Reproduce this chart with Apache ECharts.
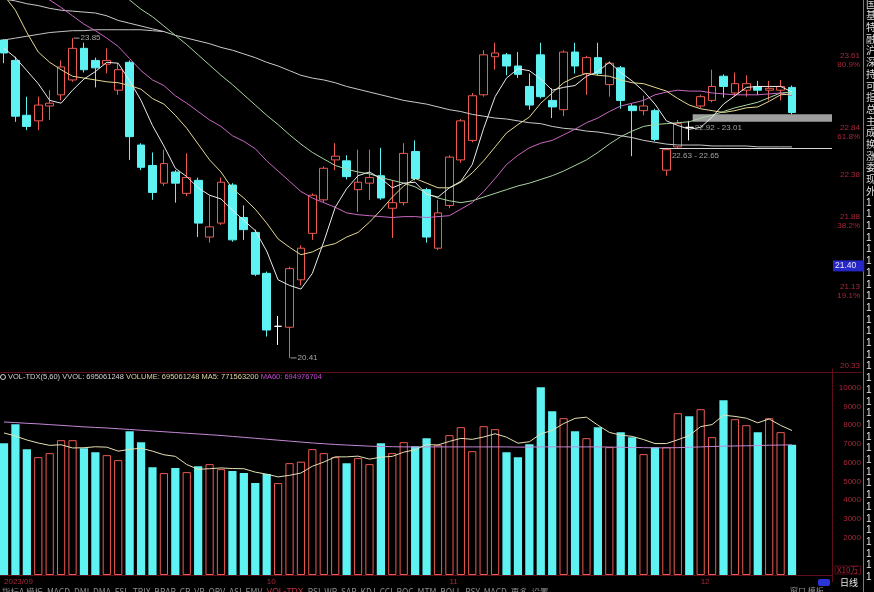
<!DOCTYPE html>
<html><head><meta charset="utf-8">
<script src="https://cdn.jsdelivr.net/npm/echarts@6/dist/echarts.min.js"></script>
<style>html,body{margin:0;padding:0;background:#000;overflow:hidden}#c{width:874px;height:592px}</style>
</head><body><div id="c"></div>
<script>
// ---------- data ----------
const TOTAL_SLOTS = 73; // 70 trading days + 3 empty slots on the right
const opens = [23.83,23.61,23.02,22.96,23.12,23.24,23.40,23.74,23.61,23.57,
23.29,23.59,22.70,22.48,22.29,22.41,22.18,22.32,21.71,21.86,
22.27,21.92,21.76,21.32,20.75,20.74,21.25,21.75,22.11,22.54,
22.53,22.22,22.29,22.37,22.02,22.08,22.63,22.22,21.59,22.05,
22.54,22.75,23.24,23.65,23.67,23.55,23.33,23.67,23.18,23.08,
23.70,23.47,23.64,23.35,23.53,23.12,23.07,23.07,22.43,22.68,
22.89,23.12,23.18,23.44,23.26,23.29,23.33,23.29,23.29,23.32];
const closes = [23.69,23.01,22.90,23.13,23.15,23.54,23.74,23.51,23.53,23.61,
23.51,22.79,22.46,22.19,22.50,22.29,22.35,21.86,21.82,22.30,
21.68,21.79,21.31,20.71,20.75,21.37,21.59,22.16,22.45,22.58,
22.36,22.30,22.35,22.13,22.08,22.61,22.34,21.71,21.97,22.57,
22.96,23.23,23.67,23.69,23.55,23.46,23.13,23.22,23.11,23.70,
23.55,23.64,23.47,23.58,23.18,23.07,23.12,22.76,22.65,22.93,
22.89,23.22,23.33,23.33,23.36,23.36,23.29,23.31,23.33,23.05];
const lows = [23.58,22.95,22.86,22.86,22.97,23.18,23.38,23.48,23.32,23.47,
23.24,22.54,22.43,22.11,22.26,22.08,22.15,21.71,21.65,21.84,
21.66,21.68,21.29,20.64,20.55,20.41,21.19,21.68,22.08,22.43,
22.33,21.98,22.11,22.11,21.70,22.05,22.32,21.65,21.57,22.02,
22.51,22.73,23.22,23.51,23.45,23.42,23.08,23.20,22.99,23.01,
23.47,23.24,23.45,23.22,23.09,22.58,23.02,22.74,22.37,22.66,
22.75,23.10,23.16,23.21,23.22,23.22,23.24,23.18,23.18,23.03];
const highs = [23.84,23.65,23.22,23.22,23.29,23.61,23.85,23.80,23.64,23.74,
23.58,23.61,22.72,22.62,22.65,22.43,22.61,22.35,22.16,22.35,
22.29,22.05,21.79,21.34,20.86,21.39,21.62,22.18,22.47,22.72,
22.59,22.65,22.65,22.67,22.32,22.72,22.75,22.24,22.11,22.59,
22.98,23.26,23.72,23.80,23.69,23.70,23.47,23.80,23.31,23.72,
23.80,23.66,23.80,23.60,23.55,23.14,23.23,23.09,22.67,22.97,
22.96,23.24,23.51,23.46,23.48,23.45,23.39,23.39,23.40,23.34];

const ma5 = [23.74,23.64,23.50,23.36,23.18,23.15,23.29,23.41,23.49,23.59,
23.58,23.39,23.18,22.91,22.69,22.45,22.36,22.24,22.16,22.12,
22.00,21.89,21.78,21.56,21.25,21.19,21.15,21.32,21.66,22.03,
22.23,22.37,22.41,22.34,22.24,22.29,22.30,22.17,22.14,22.24,
22.31,22.49,22.88,23.22,23.42,23.52,23.50,23.41,23.29,23.32,
23.34,23.44,23.49,23.59,23.48,23.39,23.28,23.14,22.96,22.91,
22.87,22.89,23.00,23.14,23.23,23.32,23.33,23.33,23.33,23.27];
const ma10 = [24.31,24.15,23.91,23.70,23.59,23.51,23.44,23.42,23.40,23.38,
23.37,23.34,23.30,23.20,23.14,23.02,22.88,22.71,22.54,22.41,
22.23,22.13,22.01,21.86,21.69,21.60,21.52,21.55,21.61,21.64,
21.71,21.76,21.87,22.00,22.14,22.26,22.34,22.29,22.24,22.24,
22.30,22.40,22.53,22.68,22.83,22.92,23.00,23.15,23.26,23.37,
23.43,23.47,23.45,23.44,23.40,23.37,23.36,23.32,23.28,23.20,
23.13,23.09,23.07,23.05,23.07,23.10,23.11,23.17,23.24,23.25];
const ma20 = [null,null,null,24.33,24.26,24.18,24.09,24.00,23.93,23.85,
23.76,23.63,23.50,23.40,23.34,23.23,23.15,23.06,22.97,22.90,
22.80,22.74,22.66,22.53,22.42,22.31,22.20,22.13,22.08,22.03,
21.97,21.95,21.94,21.93,21.92,21.93,21.93,21.92,21.93,21.94,
22.01,22.08,22.20,22.34,22.49,22.59,22.67,22.72,22.75,22.81,
22.87,22.94,22.99,23.06,23.12,23.15,23.18,23.24,23.27,23.29,
23.28,23.28,23.26,23.25,23.24,23.24,23.24,23.25,23.26,23.23];
const ma30 = [null,null,null,null,null,null,null,null,null,null,
24.36,24.26,24.16,24.08,23.98,23.88,23.78,23.67,23.56,23.45,
23.35,23.24,23.13,23.02,22.92,22.81,22.71,22.62,22.55,22.48,
22.44,22.41,22.39,22.35,22.32,22.29,22.25,22.18,22.13,22.10,
22.08,22.10,22.14,22.18,22.22,22.26,22.29,22.33,22.37,22.42,
22.48,22.54,22.62,22.71,22.79,22.85,22.90,22.92,22.93,22.94,
22.95,22.99,23.02,23.06,23.10,23.13,23.16,23.21,23.26,23.27];
const ma60 = [24.27,24.25,24.22,24.20,24.17,24.15,24.14,24.13,24.12,24.09,
24.04,24.01,23.98,23.95,23.92,23.88,23.85,23.82,23.79,23.75,
23.72,23.68,23.64,23.59,23.55,23.50,23.45,23.42,23.40,23.37,
23.33,23.30,23.27,23.24,23.21,23.18,23.16,23.14,23.11,23.08,
23.06,23.03,23.01,22.99,22.98,22.96,22.94,22.93,22.90,22.88,
22.87,22.85,22.84,22.82,22.80,22.78,22.75,22.73,22.71,22.70,
22.70,22.70,22.69,22.69,22.69,22.69,22.68,22.68,22.68,22.68];
// long average: flat at the left, joins the MA60 line where they meet
const ma120 = [23.83,23.85,23.87,23.89,23.91,23.92,23.93,23.93,23.94,23.94,
23.94,23.94,23.94,23.93,23.92,null,null,null,null,null,
null,null,null,null,null,null,null,null,null,null,
null,null,null,null,null,null,null,null,null,null,
null,null,null,null,null,null,null,null,null,null,
null,null,null,null,null,null,null,null,null,null,
null,null,null,null,null,null,null,null,null,null];

// volume in units of 10万 shares
const volumes = [7040,8053,6720,6293,6507,7200,7200,6773,6560,6400,
6133,7680,7093,5760,5440,5707,5493,5813,5920,5653,
5547,5440,4907,5387,4907,5973,6050,6720,6507,6293,
5973,6240,5920,7040,6507,7093,6880,7307,6933,7467,
7893,6613,7947,7787,6560,6293,6987,10027,8747,8373,
7680,7307,7893,6827,7627,7360,6453,6827,6827,8640,
8480,8853,7360,9333,8320,8000,7627,8373,7627,6951];
const volMa5 = [7583,7422,7209,7049,6923,6955,6784,6795,6848,6827,
6613,6709,6773,6613,6421,6336,5899,5643,5675,5717,
5685,5675,5493,5387,5238,5323,5445,5807,6031,6309,
6309,6347,6187,6293,6336,6560,6688,6965,6944,7136,
7296,7243,7371,7541,7360,7040,7115,7531,7723,8085,
8363,8427,8000,7616,7467,7403,7232,7019,7019,7221,
7445,7925,8032,8533,8469,8373,8128,8331,7989,7716];
const volMa60 = [8170,8140,8100,8070,8030,7990,7950,7910,7880,7850,
7810,7770,7730,7690,7650,7610,7570,7530,7490,7450,
7400,7350,7300,7250,7200,7150,7100,7050,7010,6970,
6940,6910,6880,6860,6850,6840,6840,6840,6840,6840,
6840,6840,6840,6840,6840,6830,6830,6840,6840,6840,
6840,6840,6840,6830,6820,6810,6800,6790,6790,6800,
6820,6840,6860,6880,6890,6900,6910,6930,6940,6950];

const monthTickIdx = [0, 23, 39, 61];
const monthTickLabels = ['2023/09', '10', '11', '12'];
const priceTicks = [23.61, 22.84, 22.38, 21.88, 21.13, 20.33];
const priceTickPct = ['80.9%', '61.8%', '', '38.2%', '19.1%', ''];
const volTicks = [2000, 3000, 4000, 5000, 6000, 7000, 8000, 9000, 10000];
const extremes = [[6, 23.85], [25, 20.41]];
const rangeNotes = [
  {idx: 60, price: 22.89, text: '22.92 - 23.01'},
  {idx: 58, price: 22.58, text: '22.63 - 22.65'}
];
const zoneFrom = 60.8, zoneTop = 23.03, zoneBottom = 22.95;
const supportFrom = 57.9, supportPrice = 22.66;
const cursorPrice = 21.40;
const legendVals = {vvol: 695061248, volume: 695061248, ma5: 771563200, ma60: 694976704};
const sideLabels = ['国','基','特','融','沪','深','持','可','指','总','主','成','换','涨','委','现','外'];

// ---------- chart ----------
const RED = '#ec5a52', CYAN = '#5ef2f2', FRAME = '#5c0e1a', AXTXT = '#a8283a';
const categories = Array.from({length: TOTAL_SLOTS}, (_, k) => 'D' + (k + 1));
const candleData = closes.map((c, k) => [opens[k], c, lows[k], highs[k]]);
const isUp = k => closes[k] > opens[k] || (closes[k] === opens[k] && (k === 0 || closes[k] >= closes[k - 1]));
const volData = volumes.map((v, k) => ({
  value: v,
  itemStyle: isUp(k) ? {color: '#000', borderColor: RED, borderWidth: 1} : {color: CYAN, borderWidth: 0}
}));
const maLine = (name, data, color) => ({
  type: 'line', name, data, xAxisIndex: 0, yAxisIndex: 0, symbol: 'none', showSymbol: false,
  lineStyle: {color, width: 1}, silent: true, z: 3, animation: false
});
const volLine = (name, data, color) => ({
  type: 'line', name, data, xAxisIndex: 1, yAxisIndex: 1, symbol: 'none', showSymbol: false,
  lineStyle: {color, width: 1}, silent: true, z: 3, animation: false
});
const fmtPrice = v => {
  const i = priceTicks.findIndex(t => Math.abs(t - v) < 1e-6);
  if (i < 0) return '';
  return priceTickPct[i] ? priceTicks[i].toFixed(2) + '\n' + priceTickPct[i] : priceTicks[i].toFixed(2);
};

const chart = echarts.init(document.getElementById('c'));
const FONT = '"Liberation Sans", Arial, sans-serif';
const option = {
  backgroundColor: '#000',
  animation: false,
  textStyle: {fontFamily: FONT},
  grid: [
    {left: -1.7, top: 0, width: 833.7, height: 370, containLabel: false, outerBoundsMode: 'none'},
    {left: -1.7, top: 369, width: 833.7, height: 206, containLabel: false, outerBoundsMode: 'none'}
  ],
  xAxis: [
    {type: 'category', gridIndex: 0, data: categories, boundaryGap: true,
     axisLine: {show: false}, axisTick: {show: false}, axisLabel: {show: false}, splitLine: {show: false}},
    {type: 'category', gridIndex: 1, data: categories, boundaryGap: true,
     axisLine: {show: true, lineStyle: {color: FRAME}}, axisTick: {show: false}, splitLine: {show: false},
     axisLabel: {show: true, interval: (i) => monthTickIdx.includes(i),
       formatter: (v, i) => { const m = monthTickIdx.indexOf(i); return m >= 0 ? monthTickLabels[m] : ''; },
       color: AXTXT, fontSize: 8, align: 'left', margin: 3, fontFamily: FONT}},
    {type: 'value', gridIndex: 0, min: 0, max: TOTAL_SLOTS, show: false}
  ],
  yAxis: [
    {type: 'value', gridIndex: 0, min: 20.28, max: 24.26, position: 'right',
     axisLine: {show: true, lineStyle: {color: FRAME}}, axisTick: {show: false}, splitLine: {show: false},
     axisLabel: {customValues: priceTicks, formatter: fmtPrice, color: AXTXT, fontSize: 8, lineHeight: 9,
       align: 'right', margin: 28, fontFamily: FONT}},
    {type: 'value', gridIndex: 1, min: 0, max: 11000, position: 'right',
     axisLine: {show: true, lineStyle: {color: FRAME}}, axisTick: {show: false}, splitLine: {show: false},
     axisLabel: {customValues: volTicks, formatter: v => String(v), color: AXTXT, fontSize: 8,
       align: 'right', margin: 29, fontFamily: FONT}}
  ],
  title: [
    {left: 8, top: 373, padding: 0,
     text: '{w|VOL-TDX(5,60) VVOL: ' + legendVals.vvol + '} {y|VOLUME: ' + legendVals.volume +
           ' MA5: ' + legendVals.ma5 + '} {p|MA60: ' + legendVals.ma60 + '}',
     textStyle: {fontSize: 7.5, fontWeight: 'normal', fontFamily: FONT, rich: {
       w: {color: '#d2d2d2', fontSize: 7.5, fontFamily: FONT},
       y: {color: '#dcd6a0', fontSize: 7.5, fontFamily: FONT},
       p: {color: '#c24bd0', fontSize: 7.5, fontFamily: FONT}}}},
    {left: 2, top: 587, padding: 0,
     text: '{g|指标A 模板  MACD  DMI  DMA  FSL  TRIX  BRAR  CR  VR  OBV  ASI  EMV } {r|VOL-TDX} {g| RSI  WR  SAR  KDJ  CCI  ROC  MTM  BOLL  PSY  MACD  更多  设置}',
     textStyle: {fontSize: 8.5, fontWeight: 'normal', rich: {
       g: {color: '#8e8e8e', fontSize: 8.5, fontFamily: '"Noto Sans CJK SC", ' + FONT},
       r: {color: '#c03545', fontSize: 8.5, fontFamily: FONT}}}},
    {left: 840, top: 578, padding: 0, text: '日线',
     textStyle: {color: '#e8e8e8', fontSize: 9, fontWeight: 'normal', fontFamily: '"Noto Sans CJK SC"'}},
    {left: 790, top: 587, padding: 0, text: '窗口 模板',
     textStyle: {color: '#8e8e8e', fontSize: 8, fontWeight: 'normal', fontFamily: '"Noto Sans CJK SC"'}}
  ],
  series: [
    {type: 'candlestick', name: 'K', xAxisIndex: 0, yAxisIndex: 0, data: candleData, barWidth: '72%', z: 2,
     silent: true,
     itemStyle: {color: '#000', color0: CYAN, borderColor: RED, borderColor0: CYAN,
       borderColorDoji: '#ffffff', borderWidth: 1}},
    maLine('MA120', ma120, '#c4c4c4'),
    maLine('MA60', ma60, '#c9c9c9'),
    maLine('MA30', ma30, '#a9d3a0'),
    maLine('MA20', ma20, '#c868c0'),
    maLine('MA10', ma10, '#e3d892'),
    maLine('MA5', ma5, '#eaeaea'),
    {type: 'scatter', name: 'extremes', xAxisIndex: 0, yAxisIndex: 0, data: extremes, silent: true, z: 5,
     symbol: 'rect', symbolSize: [6, 1], symbolOffset: [4, 0], itemStyle: {color: '#c8c8c8'},
     label: {show: true, position: 'right', distance: 1, color: '#cfcfcf', fontSize: 8, fontFamily: FONT,
       formatter: p => p.value[1].toFixed(2)}},
    {type: 'scatter', name: 'notes', xAxisIndex: 0, yAxisIndex: 0, silent: true, z: 5,
     data: rangeNotes.map(n => ({value: [n.idx, n.price], name: n.text})),
     symbol: 'circle', symbolSize: 1, itemStyle: {color: 'rgba(0,0,0,0)'},
     label: {show: true, position: 'right', distance: 5, color: '#c8c8c8', fontSize: 8, fontFamily: FONT,
       formatter: p => p.name}},
    {type: 'line', name: 'zone', xAxisIndex: 2, yAxisIndex: 0, data: [[zoneFrom, zoneTop]],
     symbol: 'none', showSymbol: false, lineStyle: {width: 0}, silent: true, z: 4,
     markArea: {silent: true, itemStyle: {color: '#9e9e9e'},
       data: [[{coord: [zoneFrom, zoneTop]}, {coord: [TOTAL_SLOTS, zoneBottom]}]]},
     markLine: {silent: true, symbol: 'none', label: {show: false},
       lineStyle: {color: '#d6d6d6', width: 1, type: 'solid'},
       data: [[{coord: [supportFrom, supportPrice]}, {coord: [TOTAL_SLOTS, supportPrice]}]]}},
    {type: 'bar', name: 'VOL', xAxisIndex: 1, yAxisIndex: 1, data: volData, barWidth: '72%', silent: true, z: 2},
    volLine('VMA60', volMa60, '#c488d6'),
    volLine('VMA5', volMa5, '#e6e0b4')
  ],
  graphic: [
    {id: 'sep', type: 'line', shape: {x1: 0, y1: 372.5, x2: 862, y2: 372.5}, style: {stroke: FRAME, lineWidth: 1}, silent: true},
    {id: 'sep2', type: 'line', shape: {x1: 832.5, y1: 570, x2: 832.5, y2: 582}, style: {stroke: FRAME, lineWidth: 1}, silent: true},
    {id: 'side', type: 'line', shape: {x1: 863.5, y1: 0, x2: 863.5, y2: 592}, style: {stroke: '#7a7a7a', lineWidth: 1}, silent: true},
    {id: 'icon', type: 'circle', shape: {cx: 3, cy: 377, r: 2.5}, style: {stroke: '#cfcfcf', fill: 'none', lineWidth: 1}, silent: true},
    {id: 'unit', type: 'text', x: 835, y: 566, silent: true,
     style: {text: 'X10万', fill: AXTXT, fontSize: 8, fontFamily: '"Noto Sans CJK SC"', borderColor: FRAME, borderWidth: 1, padding: [0, 2]}},
    {id: 'daybox', type: 'rect', shape: {x: 818, y: 579, width: 12, height: 7, r: 2}, style: {fill: '#2a36d8'}, silent: true},
    {id: 'sideTop', type: 'text', x: 866, y: -2, silent: true,
     style: {text: sideLabels.join('\n'), fill: '#dedede', fontSize: 10, lineHeight: 11.7, fontFamily: '"Noto Sans CJK SC"'}},
    {id: 'sideBottom', type: 'text', x: 866, y: 197, silent: true,
     style: {text: Array(33).fill('1').join('\n'), fill: '#e6e6e6', fontSize: 10, lineHeight: 11.7, fontFamily: FONT}}
  ]
};
chart.setOption(option);

const cy = chart.convertToPixel({yAxisIndex: 0}, cursorPrice);
chart.setOption({graphic: [
  {id: 'cursorBox', type: 'text', x: 833, y: cy, silent: true,
   style: {text: cursorPrice.toFixed(2), fill: '#e6e6ff', fontSize: 8.5, fontFamily: FONT,
     backgroundColor: '#2626c4', padding: [1, 8, 1, 2], verticalAlign: 'middle'}}
]});
</script>
</body></html>
